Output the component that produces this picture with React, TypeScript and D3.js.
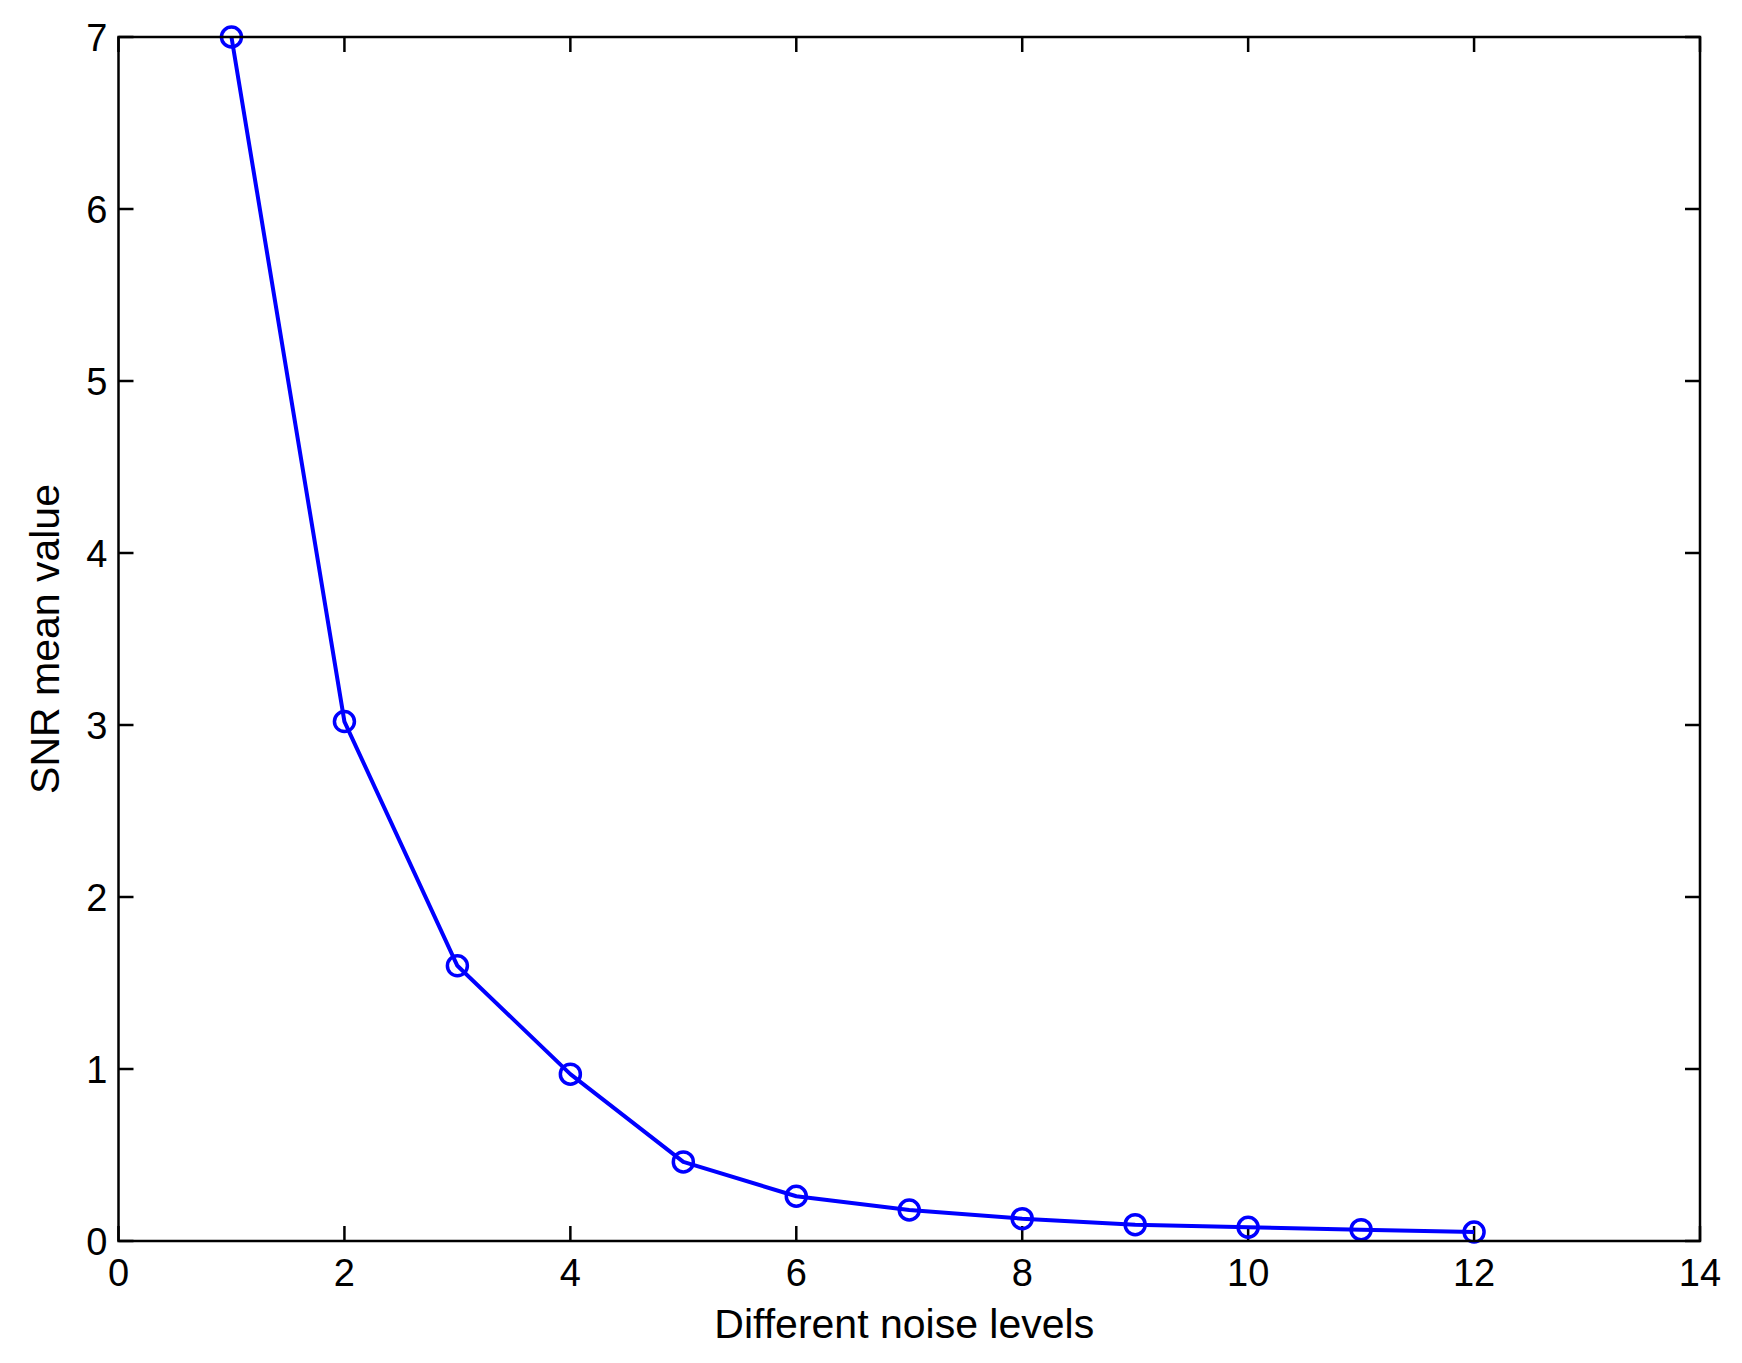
import * as d3 from "d3";

// noise level index and mean SNR
const noiseLevels = [1, 2, 3, 4, 5, 6, 7, 8, 9, 10, 11, 12];
const snrMean = [7.0, 3.02, 1.6, 0.97, 0.46, 0.26, 0.18, 0.13, 0.095, 0.08, 0.066, 0.052];

const xTicks = [0, 2, 4, 6, 8, 10, 12, 14];
const yTicks = [0, 1, 2, 3, 4, 5, 6, 7];

const xLabel = "Different noise levels";
const yLabel = "SNR mean value";

const width = 1742;
const height = 1363;
const margin = { top: 37, right: 42, bottom: 122, left: 118.5 };

const font = "'Liberation Sans', Arial, sans-serif";
const tickLen = 15;

export default function App() {
  const x = d3
    .scaleLinear()
    .domain([0, 14])
    .range([margin.left, width - margin.right]);
  const y = d3
    .scaleLinear()
    .domain([0, 7])
    .range([height - margin.bottom, margin.top]);

  const [x0, x1] = x.range();
  const [y0, y1] = y.range(); // y0 bottom, y1 top

  const points = noiseLevels.map((n, i) => [n, snrMean[i]] as [number, number]);
  const line = d3
    .line<[number, number]>()
    .x((d) => x(d[0]))
    .y((d) => y(d[1]));

  return (
    <svg
      width={width}
      height={height}
      style={{ position: "absolute", left: 0, top: 0, background: "#fff" }}
    >
      <rect x={0} y={0} width={width} height={height} fill="#fff" />

      {/* ticks, inward on all four sides */}
      <g stroke="#000" strokeWidth={2.5}>
        {xTicks.map((t) => (
          <g key={"xt" + t}>
            <line x1={x(t)} x2={x(t)} y1={y0} y2={y0 - tickLen} />
            <line x1={x(t)} x2={x(t)} y1={y1} y2={y1 + tickLen} />
          </g>
        ))}
        {yTicks.map((t) => (
          <g key={"yt" + t}>
            <line x1={x0} x2={x0 + tickLen} y1={y(t)} y2={y(t)} />
            <line x1={x1} x2={x1 - tickLen} y1={y(t)} y2={y(t)} />
          </g>
        ))}
      </g>

      {/* data line and markers */}
      <path
        d={line(points) ?? ""}
        fill="none"
        stroke="#0000ff"
        strokeWidth={4}
        strokeLinejoin="round"
      />
      {points.map((p, i) => (
        <circle
          key={"m" + i}
          cx={x(p[0])}
          cy={y(p[1])}
          r={10}
          fill="none"
          stroke="#0000ff"
          strokeWidth={3.5}
        />
      ))}

      {/* box */}
      <rect
        x={x0}
        y={y1}
        width={x1 - x0}
        height={y0 - y1}
        fill="none"
        stroke="#000"
        strokeWidth={2.5}
      />

      {/* tick labels */}
      <g fontFamily={font} fontSize={38} fill="#000">
        {xTicks.map((t) => (
          <text key={"xl" + t} x={x(t)} y={y0 + 45} textAnchor="middle">
            {t}
          </text>
        ))}
        {yTicks.map((t) => (
          <text key={"yl" + t} x={x0 - 11} y={y(t)} dy="0.36em" textAnchor="end">
            {t}
          </text>
        ))}
      </g>

      {/* axis labels */}
      <text
        x={(x0 + x1) / 2 - 5}
        y={1338}
        textAnchor="middle"
        fontFamily={font}
        fontSize={41}
        fill="#000"
      >
        {xLabel}
      </text>
      <text
        transform={`translate(59,${(y0 + y1) / 2}) rotate(-90)`}
        textAnchor="middle"
        fontFamily={font}
        fontSize={41}
        fill="#000"
      >
        {yLabel}
      </text>
    </svg>
  );
}
